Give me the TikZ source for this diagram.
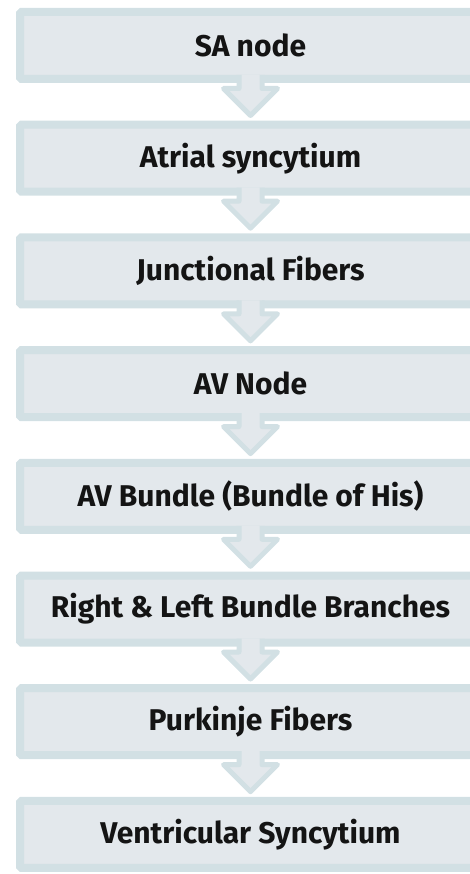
\documentclass[tikz,border=0pt]{standalone}
\usepackage{fontspec}
\setmainfont{Fira Sans}
\usetikzlibrary{calc}
\definecolor{bordc}{HTML}{D2E0E4}
\definecolor{fillc}{HTML}{E3E8EC}
\definecolor{txtc}{HTML}{141414}
\newcommand{\boxlabel}[1]{\raisebox{-2pt}{#1}}
\tikzset{
  flowbox/.style={rectangle, draw=bordc, fill=fillc, line width=8pt,
    rounded corners=1.5pt, minimum width=461pt, minimum height=67pt,
    inner sep=0pt, text=txtc, font=\bfseries\fontsize{30}{34}\selectfont},
  arrfill/.style={fill=fillc, draw=none},
  arrline/.style={draw=bordc, line width=5pt, line join=round}
}
\begin{document}
\begin{tikzpicture}[x=1pt,y=-1pt]
\useasboundingbox (0,0) rectangle (470,874);
\node[flowbox] (b1) at (250.5,45.5) {\boxlabel{SA node}};
\node[flowbox] (b2) at (250.5,158.2) {\boxlabel{Atrial syncytium}};
\node[flowbox] (b3) at (250.5,270.9) {\boxlabel{Junctional Fibers}};
\node[flowbox] (b4) at (250.5,383.6) {\boxlabel{AV Node}};
\node[flowbox] (b5) at (250.5,496.3) {\boxlabel{AV Bundle (Bundle of His)}};
\node[flowbox] (b6) at (250.5,609.0) {\boxlabel{Right \& Left Bundle Branches}};
\node[flowbox] (b7) at (250.5,721.7) {\boxlabel{Purkinje Fibers}};
\node[flowbox] (b8) at (250.5,834.4) {\boxlabel{Ventricular Syncytium}};
\foreach \a/\b in {b1/b2,b2/b3,b3/b4,b4/b5,b5/b6,b6/b7,b7/b8}{
  \begin{scope}[shift={(\a.south)}]
    \path[arrfill] (-11.5,-8) -- (-11.5,5.5) -- (-27,5.5) -- (0,32.5) -- (27,5.5) -- (11.5,5.5) -- (11.5,-8) -- cycle;
    \draw[arrline] (-11.5,-8) -- (-11.5,5.5) -- (-27,5.5) -- (0,32.5) -- (27,5.5) -- (11.5,5.5) -- (11.5,-8);
  \end{scope}
}
\end{tikzpicture}
\end{document}
